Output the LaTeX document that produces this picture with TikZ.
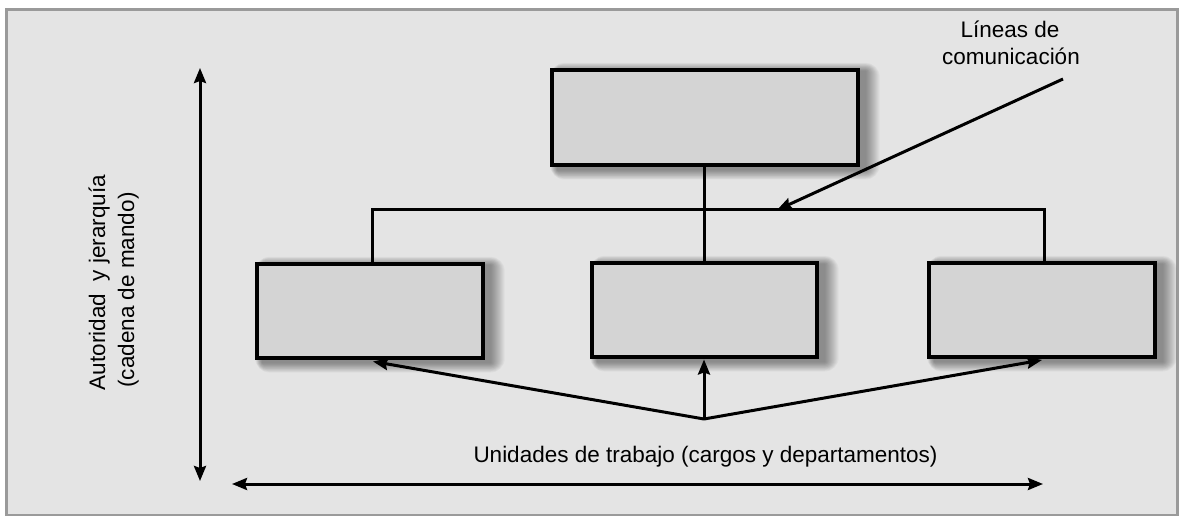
\documentclass[tikz,border=0pt]{standalone}
\usepackage{fontspec}
\setmainfont{Liberation Sans}
\usetikzlibrary{arrows.meta}
\definecolor{bgcol}{HTML}{E4E4E4}
\definecolor{framecol}{HTML}{9A9A9A}
\definecolor{boxcol}{HTML}{D4D4D4}
\pgfdeclarelayer{framelayer}
\pgfdeclarelayer{shadlayer}
\pgfsetlayers{framelayer,shadlayer,main}
\newcommand\softshadow[1]{%
  \foreach \e in {1,...,14}{%
    \fill[black, fill opacity=0.03, rounded corners=\e pt]
      ([shift={(-0.5*\e+7,0.7*\e+3)}]#1.south west) rectangle ([shift={(\e+6,-0.6*\e+3)}]#1.north east);
  }%
}
\begin{document}
\begin{tikzpicture}[x=1pt,y=-1pt,
  unitbox/.style={draw=black, line width=3.4pt, fill=boxcol, inner sep=0pt},
  conn/.style={line width=3pt},
  arr/.style={line width=3pt, -{Stealth[length=15pt,width=12pt,inset=2pt]}},
  darr/.style={line width=3pt, {Stealth[length=15pt,width=12pt,inset=2pt]}-{Stealth[length=15pt,width=12pt,inset=2pt]}},
  lbl/.style={font=\fontsize{22.5pt}{27pt}\selectfont, inner sep=0pt}
]
\useasboundingbox (0,0) rectangle (1179,516);
\begin{pgfonlayer}{framelayer}
\fill[white] (0,0) rectangle (1179,516);
\draw[framecol, fill=bgcol, line width=3pt] (6.5,9.5) rectangle (1177,515);
\end{pgfonlayer}

% boxes
\node[unitbox, minimum width=306pt, minimum height=95pt] (top) at (705,117.5) {};
\node[unitbox, minimum width=226pt, minimum height=94pt] (left) at (370,311) {};
\node[unitbox, minimum width=225pt, minimum height=94pt] (mid) at (704.5,310) {};
\node[unitbox, minimum width=226pt, minimum height=94pt] (right) at (1042,310) {};

\begin{pgfonlayer}{shadlayer}
\softshadow{top}
\softshadow{left}
\softshadow{mid}
\softshadow{right}
\end{pgfonlayer}

% communication lines
\coordinate (jl) at (372,210);
\coordinate (jr) at (1044,210);
\draw[conn] (jl |- left.north) -- (jl) -- (jr) -- (jr |- right.north);
\draw[line width=3.6pt] (top.south -| mid.north) -- (mid.north);

% label of communication lines
\node[lbl, anchor=base] (lab1) at (1010,38) {Líneas de};
\node[lbl, anchor=base] (lab2) at (1011,65) {comunicación};
\coordinate (cs) at (1063,79);
\coordinate (ctip) at (777,210);
\draw[arr] (cs) -- (ctip);

% work units arrows
\coordinate (src) at (704,419);
\draw[arr] (src) -- (373,361.5);
\draw[arr] (src) -- (704,359.5);
\draw[arr] (src) -- (1042,360);
\node[lbl, anchor=base] (units) at (705.5,462) {Unidades de trabajo (cargos y departamentos)};

% axes
\coordinate (hl) at (232,484);
\coordinate (hr) at (1043,484);
\draw[darr] (hl) -- (hr);
\coordinate (vt) at (200,68);
\coordinate (vb) at (200,481);
\draw[darr] (vt) -- (vb);

\node[lbl, anchor=base, rotate=90] (auth1) at (105,282.5) {Autoridad\ \ y jerarquía};
\node[lbl, anchor=base, rotate=90] (auth2) at (134,290) {(cadena de mando)};
\end{tikzpicture}
\end{document}
